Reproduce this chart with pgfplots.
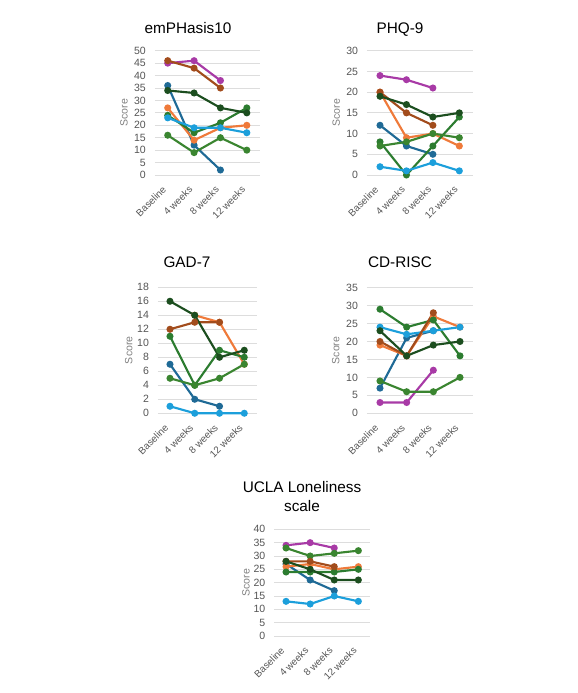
\documentclass[border=0pt]{standalone}
\usepackage{pgfplots}
\pgfplotsset{compat=1.18}
\usepackage{fontspec}
\setmainfont{Liberation Sans}

\definecolor{cDarkBlue}{HTML}{1F6A96}
\definecolor{cOrange}{HTML}{EF7A3A}
\definecolor{cGreenA}{HTML}{2C7C30}
\definecolor{cLightBlue}{HTML}{1C9FDB}
\definecolor{cMagenta}{HTML}{A83AA6}
\definecolor{cGreenB}{HTML}{3A8530}
\definecolor{cBrown}{HTML}{A24C1C}
\definecolor{cDarkGreen}{HTML}{1C4E1F}
\definecolor{gridgray}{HTML}{DDDDDD}
\definecolor{tickgray}{HTML}{555555}
\definecolor{labelgray}{HTML}{808080}

\newcommand{\tickfont}{\fontsize{7.9}{9}\selectfont}
\newcommand{\xtickfont}{\fontsize{7.4}{9}\selectfont}
\newcommand{\titlefont}{\fontsize{11.5}{14.5}\selectfont}

\tikzset{title node/.style={font=\titlefont, anchor=base}}

\pgfplotsset{
  panel/.style={
    scale only axis,
    anchor=south west,
    axis line style={draw=none},
    major tick length=0pt,
    ymajorgrids,
    grid style={gridgray, line width=0.6pt},
    xmin=-0.5, xmax=3.5, ymin=0,
    xtick={0,1,2,3},
    xticklabels={Baseline,4 weeks,8 weeks,12 weeks},
    /pgf/number format/assume math mode=true,
    x tick label style={font=\xtickfont, text=tickgray, inner sep=1pt,
      xshift=-4.5pt, yshift=-6pt, rotate=45, anchor=north east},
    y tick label style={font=\tickfont, text=tickgray, xshift=-3pt},
    ylabel={Score},
    ylabel style={font=\tickfont, text=labelgray,
      at={(axis description cs:-0.29,0.5)}, anchor=center},
    clip=false,
    every axis plot/.append style={line width=1.6pt, mark=*, mark size=1.8pt},
  },
}

\begin{document}
\begin{tikzpicture}
\path[use as bounding box] (0,0) rectangle (433.5pt,519.75pt);

% emPHasis10
\node[title node] at (141pt,494.25pt) {emPHasis10};
\begin{axis}[panel, at={(115.9pt,388.5pt)}, width=79.1pt, height=93.2pt,
  ymax=50, ytick={0,5,...,50}]
  \addplot[cDarkBlue]  coordinates {(0,36) (1,12) (2,2)};
  \addplot[cOrange]    coordinates {(0,27) (1,14) (2,19) (3,20)};
  \addplot[cGreenA]    coordinates {(0,24) (1,17) (2,21) (3,27)};
  \addplot[cLightBlue] coordinates {(0,23) (1,19) (2,19) (3,17)};
  \addplot[cMagenta]   coordinates {(0,45) (1,46) (2,38)};
  \addplot[cGreenB]    coordinates {(0,16) (1,9) (2,15) (3,10)};
  \addplot[cBrown]     coordinates {(0,46) (1,43) (2,35)};
  \addplot[cDarkGreen] coordinates {(0,34) (1,33) (2,27) (3,25)};
\end{axis}

% PHQ-9
\node[title node] at (300pt,494.25pt) {PHQ-9};
\begin{axis}[panel, at={(275.1pt,388.5pt)}, width=79.3pt, height=93.2pt,
  ymax=30, ytick={0,5,...,30}]
  \addplot[cDarkBlue]  coordinates {(0,12) (1,7) (2,5)};
  \addplot[cOrange]    coordinates {(0,20) (1,9) (2,10) (3,7)};
  \addplot[cGreenA]    coordinates {(0,8) (1,0) (2,7) (3,14)};
  \addplot[cLightBlue] coordinates {(0,2) (1,1) (2,3) (3,1)};
  \addplot[cMagenta]   coordinates {(0,24) (1,23) (2,21)};
  \addplot[cGreenB]    coordinates {(0,7) (1,8) (2,10) (3,9)};
  \addplot[cBrown]     coordinates {(0,20) (1,15) (2,12)};
  \addplot[cDarkGreen] coordinates {(0,19) (1,17) (2,14) (3,15)};
\end{axis}

% GAD-7
\node[title node] at (140.25pt,318.75pt) {GAD-7};
\begin{axis}[panel, at={(118.2pt,209.8pt)}, width=74.3pt, height=94.5pt,
  ymax=18, ytick={0,2,...,18}]
  \addplot[cDarkBlue]  coordinates {(0,7) (1,2) (2,1)};
  \addplot[cOrange]    coordinates {(1,14) (2,13) (3,7)};
  \addplot[cGreenA]    coordinates {(0,11) (1,4) (2,9) (3,8)};
  \addplot[cLightBlue] coordinates {(0,1) (1,0) (2,0) (3,0)};
  \addplot[cGreenB]    coordinates {(0,5) (1,4) (2,5) (3,7)};
  \addplot[cBrown]     coordinates {(0,12) (1,13) (2,13)};
  \addplot[cDarkGreen] coordinates {(0,16) (1,14) (2,8) (3,9)};
\end{axis}

% CD-RISC
\node[title node] at (300pt,318.75pt) {CD-RISC};
\begin{axis}[panel, at={(275pt,209.8pt)}, width=80pt, height=94.2pt,
  ymax=35, ytick={0,5,...,35}]
  \addplot[cDarkBlue]  coordinates {(0,7) (1,21) (2,23)};
  \addplot[cOrange]    coordinates {(0,19) (1,16) (2,27) (3,24)};
  \addplot[cGreenA]    coordinates {(0,29) (1,24) (2,26) (3,16)};
  \addplot[cLightBlue] coordinates {(0,24) (1,22) (2,23) (3,24)};
  \addplot[cMagenta]   coordinates {(0,3) (1,3) (2,12)};
  \addplot[cGreenB]    coordinates {(0,9) (1,6) (2,6) (3,10)};
  \addplot[cBrown]     coordinates {(0,20) (1,16) (2,28)};
  \addplot[cDarkGreen] coordinates {(0,23) (1,16) (2,19) (3,20)};
\end{axis}

% UCLA Loneliness scale
\node[title node] at (226.5pt,150.5pt) {UCLA Loneliness};
\node[title node] at (226.5pt,136pt) {scale};
\begin{axis}[panel, at={(205.5pt,42.75pt)}, width=72.3pt, height=80pt,
  ymax=40, ytick={0,5,...,40}]
  \addplot[cDarkBlue]  coordinates {(0,27) (1,21) (2,17)};
  \addplot[cOrange]    coordinates {(0,26) (1,27) (2,25) (3,26)};
  \addplot[cGreenA]    coordinates {(0,24) (1,24) (2,24) (3,25)};
  \addplot[cLightBlue] coordinates {(0,13) (1,12) (2,15) (3,13)};
  \addplot[cMagenta]   coordinates {(0,34) (1,35) (2,33)};
  \addplot[cGreenB]    coordinates {(0,33) (1,30) (2,31) (3,32)};
  \addplot[cBrown]     coordinates {(0,28) (1,28) (2,26)};
  \addplot[cDarkGreen] coordinates {(0,28) (1,25) (2,21) (3,21)};
\end{axis}
\end{tikzpicture}
\end{document}
